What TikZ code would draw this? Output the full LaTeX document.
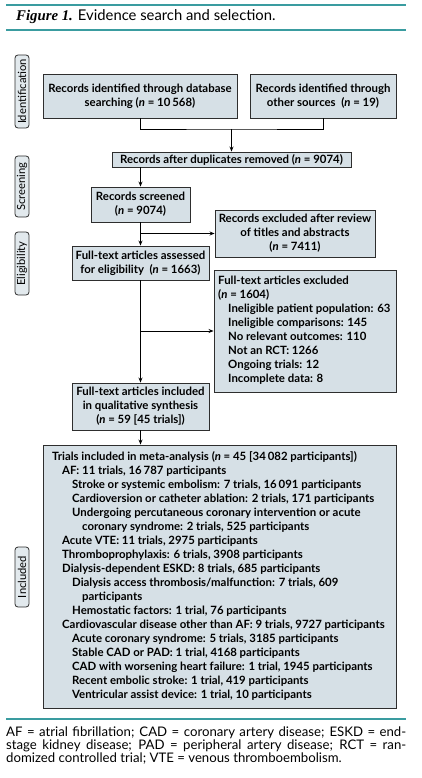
\documentclass[tikz,border=0pt]{standalone}
\usepackage{fontspec}
\setmainfont{Lato}
\newfontfamily\ttlserif{Liberation Serif}
\usetikzlibrary{arrows.meta}
\definecolor{boxfill}{HTML}{D6E0E6}
\definecolor{rulecol}{HTML}{3A9CA0}
\definecolor{edgecol}{HTML}{2E2E2E}
\newcommand\bxfont{\fontsize{11.4}{14}\selectfont\bfseries}
\newcommand\ia{\hspace*{10pt}}
\newcommand\ib{\hspace*{20pt}}
\newcommand\ic{\hspace*{30pt}}
\begin{document}
\begin{tikzpicture}[x=1pt,y=-1pt,
  box/.style={draw=edgecol, fill=boxfill, line width=0.9pt, inner sep=0pt, align=center, font=\bxfont},
  stage/.style={draw=edgecol, fill=boxfill!70, line width=0.8pt, rounded corners=3pt, inner sep=0pt,
     rotate=90, minimum height=14pt, font=\fontsize{11.2}{12}\selectfont},
  arr/.style={-{Stealth[length=5pt,width=4pt]}, line width=0.8pt, draw=black},
  ln/.style={line width=0.8pt, draw=black},
  rul/.style={draw=rulecol, line width=1.3pt}]
\useasboundingbox (0,0) rectangle (422,778);
% rules
\coordinate (r1a) at (6,5); \coordinate (r1b) at (406,5);
\coordinate (r2a) at (6,30); \coordinate (r2b) at (406,30);
\coordinate (r3a) at (6,719); \coordinate (r3b) at (406,719);
\draw[rul] (r1a) -- (r1b);
\draw[rul] (r2a) -- (r2b);
\draw[rul] (r3a) -- (r3b);
% title
\node[anchor=base west, inner sep=0pt, font=\fontsize{14.8}{17}\selectfont] (title) at (16,21)
  {{\ttlserif\bfseries\itshape Figure 1.} Evidence search and selection.};
% stage labels
\node[stage, minimum width=73pt] (sid) at (22,91.5) {Identification};
\node[stage, minimum width=61pt] (ssc) at (22,186.5) {Screening};
\node[stage, minimum width=63pt] (sel) at (22,263.5) {Eligibility};
\node[stage, minimum width=60pt] (sin) at (22,577) {Included};
% boxes
\node[box, minimum width=194pt, minimum height=44pt] (b1) at (140,96)
  {Records identified through database\\searching (\textit{n} = 10\,568)};
\node[box, minimum width=146pt, minimum height=44pt] (b2) at (323,96)
  {Records identified through\\other sources\ \ (\textit{n} = 19)};
\node[box, minimum width=239pt, minimum height=15pt] (b3) at (231.5,159.5)
  {Records after duplicates removed (\textit{n} = 9074)};
\node[box, minimum width=99pt, minimum height=35pt] (b4) at (140.5,204.5)
  {Records screened\\(\textit{n} = 9074)};
\node[box, minimum width=160pt, minimum height=47pt] (b5) at (295,233.5)
  {Records excluded after review\\of titles and abstracts\\(\textit{n} = 7411)};
\node[box, minimum width=137pt, minimum height=34pt] (b6) at (140.5,263)
  {Full-text articles assessed\\for eligibility\ \ (\textit{n} = 1663)};
\node[box, minimum width=182pt, minimum height=122pt] (b7) at (305,331) {};
\node[anchor=north west, inner sep=0pt, align=left, font=\bxfont] (t7) at (218,276)
  {Full-text articles excluded\\(\textit{n} = 1604)\\
   \ia Ineligible patient population: 63\\
   \ia Ineligible comparisons: 145\\
   \ia No relevant outcomes: 110\\
   \ia Not an RCT: 1266\\
   \ia Ongoing trials: 12\\
   \ia Incomplete data: 8};
\node[box, minimum width=137pt, minimum height=47pt] (b8) at (140.5,406.5)
  {Full-text articles included\\in qualitative synthesis\\(\textit{n} = 59 [45 trials])};
\node[box, minimum width=353pt, minimum height=263pt] (b9) at (219.5,576.5) {};
\node[anchor=north west, inner sep=0pt, align=left, font=\bxfont] (t9) at (52,451)
  {Trials included in meta-analysis (\textit{n} = 45 [34\,082 participants])\\
   \ia AF: 11 trials, 16\,787 participants\\
   \ib Stroke or systemic embolism: 7 trials, 16\,091 participants\\
   \ib Cardioversion or catheter ablation: 2 trials, 171 participants\\
   \ib Undergoing percutaneous coronary intervention or acute\\
   \ic coronary syndrome: 2 trials, 525 participants\\
   \ia Acute VTE: 11 trials, 2975 participants\\
   \ia Thromboprophylaxis: 6 trials, 3908 participants\\
   \ia Dialysis-dependent ESKD: 8 trials, 685 participants\\
   \ib Dialysis access thrombosis/malfunction: 7 trials, 609\\
   \ic participants\\
   \ib Hemostatic factors: 1 trial, 76 participants\\
   \ia Cardiovascular disease other than AF: 9 trials, 9727 participants\\
   \ib Acute coronary syndrome: 5 trials, 3185 participants\\
   \ib Stable CAD or PAD: 1 trial, 4168 participants\\
   \ib CAD with worsening heart failure: 1 trial, 1945 participants\\
   \ib Recent embolic stroke: 1 trial, 419 participants\\
   \ib Ventricular assist device: 1 trial, 10 participants};
% connectors
\coordinate (j1) at (231.5,129);
\draw[ln] (b1.south) |- (j1) -| (b2.south);
\draw[arr] (j1) -- (b3.north);
\draw[arr] (b3.south -| b4.north) -- (b4.north);
\draw[arr] (b4.south) -- (b6.north);
\draw[arr] (b4.south |- b5.west) -- (b5.west);
\draw[arr] (b6.south) -- (b8.north);
\draw[arr] (b6.south |- b7.west) -- (b7.west);
\draw[arr] (b8.south) -- (b8.south |- b9.north);
% footnote
\node[anchor=north west, inner sep=0pt, font=\fontsize{13.2}{13}\selectfont] (foot) at (6,727)
  {\vbox{\baselineskip=13pt
   \hbox to 400pt{AF = atrial fibrillation; CAD = coronary artery disease; ESKD = end-}
   \hbox to 400pt{stage kidney disease; PAD = peripheral artery disease; RCT = ran-}
   \hbox{domized controlled trial; VTE = venous thromboembolism.}}};
\end{tikzpicture}
\end{document}
